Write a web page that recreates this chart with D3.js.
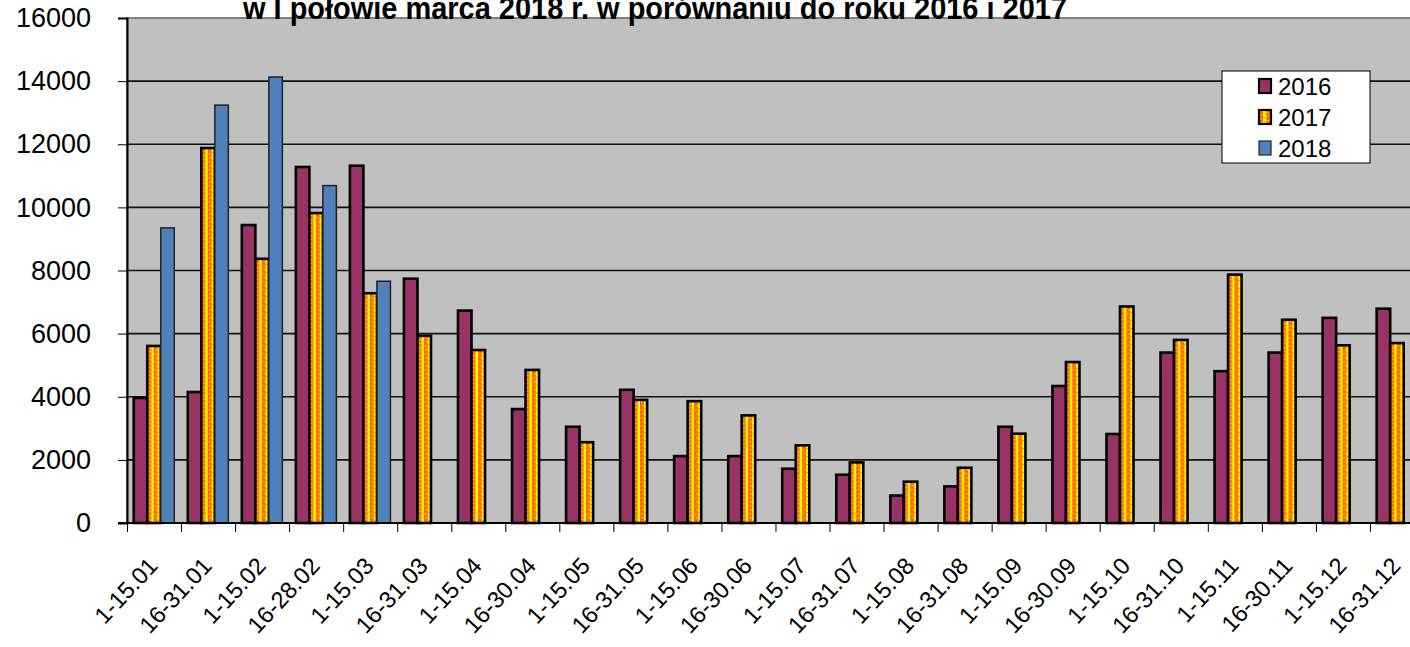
<!DOCTYPE html>
<html lang="pl">
<head>
<meta charset="utf-8">
<title>Wykres</title>
<script src="https://cdn.jsdelivr.net/npm/d3@7"></script>
<style>
  body { margin: 0; background: #fff; }
  svg { display: block; }
  .axis text { font-family: Arial, "Liberation Sans", sans-serif; fill: #000; }
  .axis path, .axis line { stroke: #000; }
</style>
</head>
<body>
<script>
// data
var categories = ["1-15.01", "16-31.01", "1-15.02", "16-28.02", "1-15.03", "16-31.03",
  "1-15.04", "16-30.04", "1-15.05", "16-31.05", "1-15.06", "16-30.06",
  "1-15.07", "16-31.07", "1-15.08", "16-31.08", "1-15.09", "16-30.09",
  "1-15.10", "16-31.10", "1-15.11", "16-30.11", "1-15.12", "16-31.12"];
var years = ["2016", "2017", "2018"];
var values2016 = [3960, 4150, 9440, 11280, 11320, 7740, 6730, 3610, 3050, 4220, 2120, 2120,
  1720, 1530, 870, 1160, 3050, 4340, 2820, 5400, 4810, 5400, 6500, 6790];
var values2017 = [5610, 11880, 8370, 9820, 7280, 5930, 5480, 4850, 2560, 3900, 3860, 3410,
  2460, 1920, 1310, 1750, 2830, 5100, 6860, 5800, 7870, 6440, 5630, 5700];
var values2018 = [9350, 13240, 14130, 10690, 7660, null, null, null, null, null, null, null,
  null, null, null, null, null, null, null, null, null, null, null, null];
var yTicks = [0, 2000, 4000, 6000, 8000, 10000, 12000, 14000, 16000];
var title = "w I połowie marca 2018 r. w porównaniu do roku 2016 i 2017";

var W = 1410, H = 647;
var plotLeft = 127, plotTop = 18, plotBottom = 523;
var band = 54.04;
var plotRight = plotLeft + band * categories.length;   // plot runs past the right edge

var rows = categories.map(function(c, i) {
  return { cat: c, v: { "2016": values2016[i], "2017": values2017[i], "2018": values2018[i] } };
});

var x = d3.scaleBand().domain(categories).range([plotLeft, plotRight]);
var xSub = d3.scaleBand().domain(years).range([0, x.bandwidth()]).paddingOuter(0.5);
var y = d3.scaleLinear().domain([0, 16000]).range([plotBottom, plotTop]);

var svg = d3.select("body").append("svg")
  .attr("width", W).attr("height", H);

var defs = svg.append("defs");
// yellow / orange check pattern for 2017
function makePattern(id, x0, w) {
  var p = defs.append("pattern").attr("id", id)
    .attr("patternUnits", "userSpaceOnUse")
    .attr("x", x0).attr("y", 0).attr("width", w).attr("height", 8);
  p.append("rect").attr("width", w).attr("height", 8).attr("fill", "#ffff00");
  p.append("rect").attr("x", 1).attr("width", 4).attr("height", 8).attr("fill", "#ff6600");
  p.append("rect").attr("x", 8.5).attr("width", 3.5).attr("height", 8).attr("fill", "#ff6600");
  [[2, 1], [3, 5], [9.5, 3], [9.5, 7], [5.5, 0], [6.5, 4], [11, 1], [11, 5]].forEach(function(d, i) {
    p.append("rect").attr("x", d[0]).attr("y", d[1]).attr("width", 1.5).attr("height", 1.5)
      .attr("fill", i < 4 ? "#ffcc00" : "#ff9900");
  });
}
makePattern("pat2017", x(categories[0]) + xSub("2017"), xSub.bandwidth());

var fills = { "2016": "#993366", "2017": "url(#pat2017)", "2018": "#4f81bd" };
var strokes = { "2016": "#000", "2017": "#000", "2018": "#222" };
var strokeW = { "2016": 2.6, "2017": 2.6, "2018": 1.5 };

// plot area
svg.append("rect")
  .attr("x", plotLeft).attr("y", plotTop)
  .attr("width", plotRight - plotLeft).attr("height", plotBottom - plotTop)
  .attr("fill", "#c0c0c0").attr("stroke", "#808080").attr("stroke-width", 2);

// gridlines
svg.append("g").selectAll("line")
  .data(yTicks.filter(function(t) { return t > 0 && t < 16000; }))
  .enter().append("line")
  .attr("x1", plotLeft).attr("x2", plotRight)
  .attr("y1", function(d) { return y(d); }).attr("y2", function(d) { return y(d); })
  .attr("stroke", "#111").attr("stroke-width", 1.6);

// bars
var groups = svg.append("g").selectAll("g")
  .data(rows).enter().append("g")
  .attr("transform", function(d) { return "translate(" + x(d.cat) + ",0)"; });

groups.selectAll("rect")
  .data(function(d) {
    return years.filter(function(k) { return d.v[k] != null; })
      .map(function(k) { return { key: k, value: d.v[k] }; });
  })
  .enter().append("rect")
  .attr("x", function(d) { return xSub(d.key); })
  .attr("y", function(d) { return y(d.value); })
  .attr("width", xSub.bandwidth())
  .attr("height", function(d) { return plotBottom - y(d.value); })
  .attr("fill", function(d) { return fills[d.key]; })
  .attr("stroke", function(d) { return strokes[d.key]; })
  .attr("stroke-width", function(d) { return strokeW[d.key]; });

// y axis
var yAxis = d3.axisLeft(y).tickValues(yTicks).tickSize(9).tickPadding(27)
  .tickFormat(d3.format("d"));
svg.append("g").attr("class", "axis")
  .attr("transform", "translate(" + plotLeft + ",0)")
  .call(yAxis)
  .call(function(g) {
    g.select(".domain").attr("stroke-width", 2);
    g.selectAll("text").style("font-size", "27px");
  });

// x axis: tick marks on band edges
var xEdge = d3.scaleLinear().domain([0, categories.length]).range([plotLeft, plotRight]);
svg.append("g").attr("class", "axis")
  .attr("transform", "translate(0," + plotBottom + ")")
  .call(d3.axisBottom(xEdge).tickValues(d3.range(categories.length + 1))
    .tickSize(9).tickSizeOuter(0).tickFormat(""))
  .call(function(g) { g.select(".domain").remove(); });

svg.append("line")
  .attr("x1", plotLeft - 9).attr("x2", W)
  .attr("y1", plotBottom).attr("y2", plotBottom)
  .attr("stroke", "#000").attr("stroke-width", 2);

// x labels, rotated
svg.append("g").attr("class", "axis")
  .attr("transform", "translate(0," + plotBottom + ")")
  .call(d3.axisBottom(x).tickSize(0))
  .call(function(g) {
    g.select(".domain").remove();
    g.selectAll("text")
      .attr("x", 0).attr("y", 0).attr("dy", 0)
      .attr("text-anchor", "end")
      .attr("transform", "translate(5,44) rotate(-47)")
      .style("font-size", "23.5px");
  });

// title (cut at the top of the picture)
svg.append("text")
  .attr("x", 655).attr("y", 19)
  .attr("text-anchor", "middle")
  .attr("textLength", 824).attr("lengthAdjust", "spacingAndGlyphs")
  .style("font-family", "Arial, 'Liberation Sans', sans-serif")
  .style("font-weight", "bold").style("font-size", "32px")
  .text(title);

// legend
var lg = svg.append("g").attr("transform", "translate(1222,71)");
lg.append("rect").attr("width", 148).attr("height", 92)
  .attr("fill", "#fff").attr("stroke", "#000").attr("stroke-width", 1);
makePattern("pat2017leg", 1222 + 36, 13);
var legFills = { "2016": "#993366", "2017": "url(#pat2017leg)", "2018": "#4f81bd" };
var items = lg.selectAll("g.item").data(years).enter().append("g")
  .attr("class", "item")
  .attr("transform", function(d, i) { return "translate(0," + (15 + i * 31) + ")"; });
items.append("rect")
  .attr("x", 37).attr("y", -7).attr("width", 12).attr("height", 14)
  .attr("fill", function(d) { return legFills[d]; })
  .attr("stroke", function(d) { return d == "2018" ? "#222" : "#000"; })
  .attr("stroke-width", function(d) { return d == "2018" ? 1.2 : 2.2; });
items.append("text")
  .attr("x", 56).attr("y", 0).attr("dy", "0.36em")
  .style("font-family", "Arial, 'Liberation Sans', sans-serif")
  .style("font-size", "24px")
  .text(function(d) { return d; });
</script>
</body>
</html>
